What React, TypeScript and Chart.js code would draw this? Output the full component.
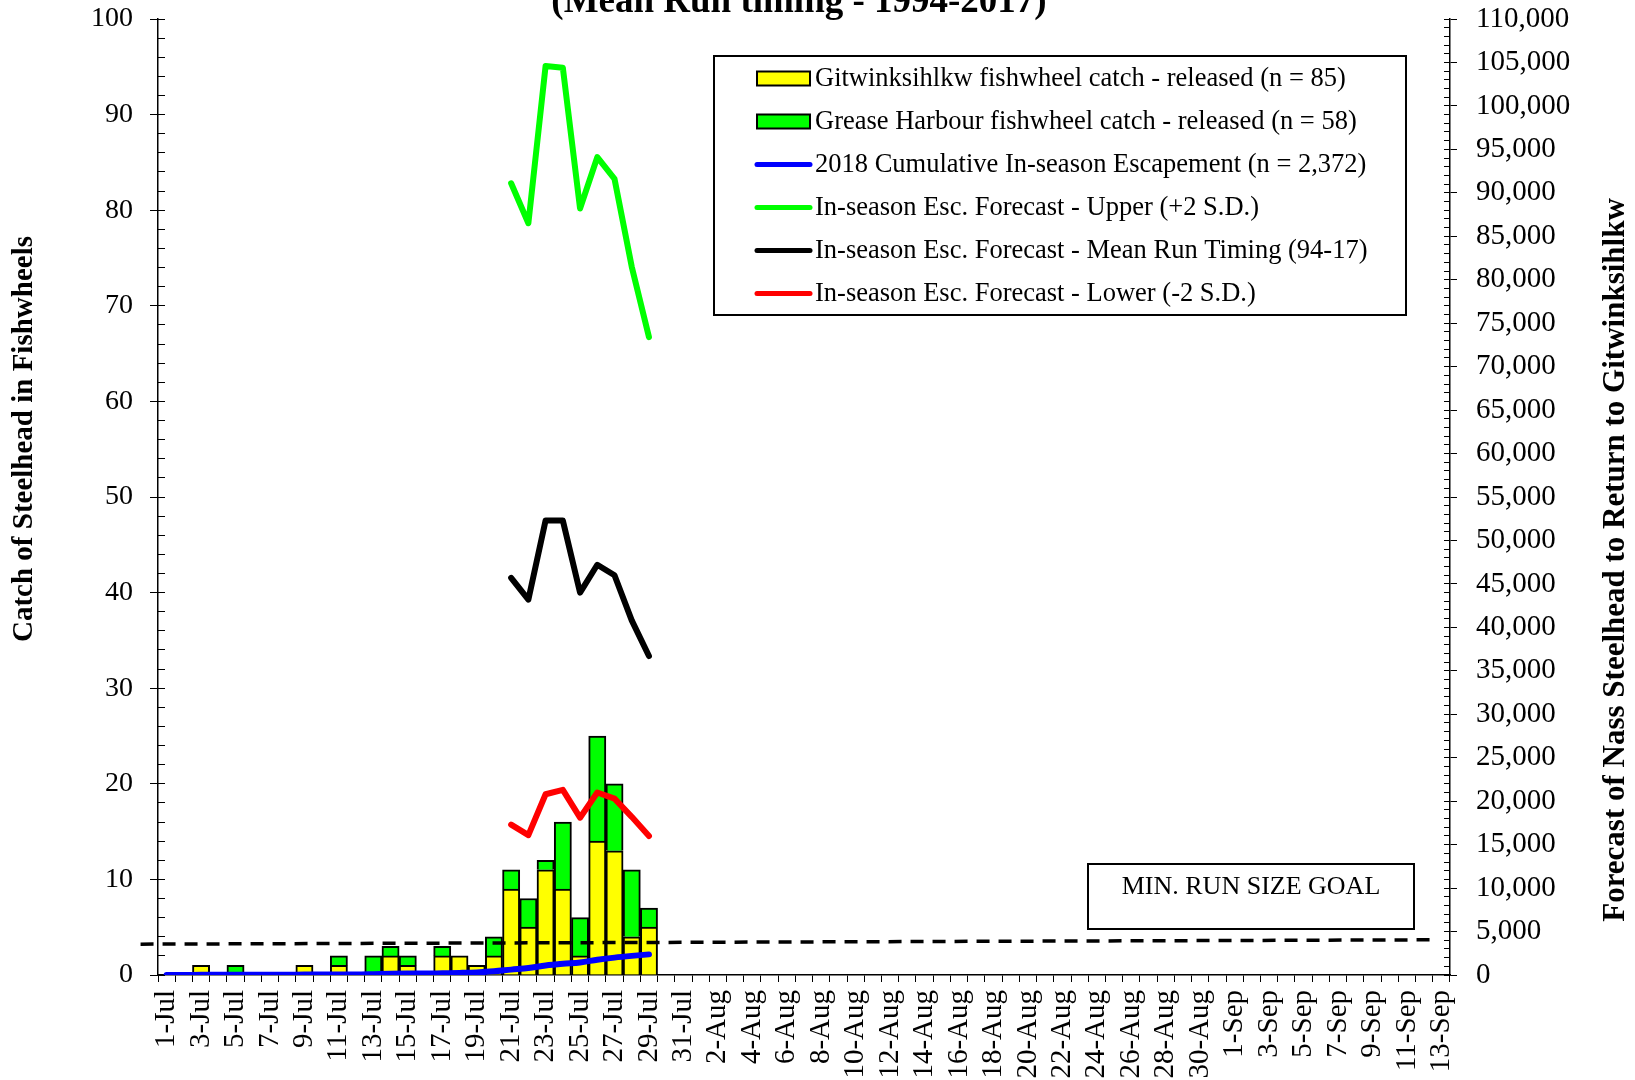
import { useEffect, useRef } from 'react';
import { Chart, registerables } from 'chart.js';

Chart.register(...registerables);

const FONT = '"Liberation Serif", "Times New Roman", serif';

const days = [
  '1-Jul', '2-Jul', '3-Jul', '4-Jul', '5-Jul', '6-Jul', '7-Jul', '8-Jul', '9-Jul', '10-Jul',
  '11-Jul', '12-Jul', '13-Jul', '14-Jul', '15-Jul', '16-Jul', '17-Jul', '18-Jul', '19-Jul', '20-Jul',
  '21-Jul', '22-Jul', '23-Jul', '24-Jul', '25-Jul', '26-Jul', '27-Jul', '28-Jul', '29-Jul', '30-Jul', '31-Jul',
  '1-Aug', '2-Aug', '3-Aug', '4-Aug', '5-Aug', '6-Aug', '7-Aug', '8-Aug', '9-Aug', '10-Aug',
  '11-Aug', '12-Aug', '13-Aug', '14-Aug', '15-Aug', '16-Aug', '17-Aug', '18-Aug', '19-Aug', '20-Aug',
  '21-Aug', '22-Aug', '23-Aug', '24-Aug', '25-Aug', '26-Aug', '27-Aug', '28-Aug', '29-Aug', '30-Aug', '31-Aug',
  '1-Sep', '2-Sep', '3-Sep', '4-Sep', '5-Sep', '6-Sep', '7-Sep', '8-Sep', '9-Sep', '10-Sep',
  '11-Sep', '12-Sep', '13-Sep',
];

// Daily fishwheel catches (1-Jul .. 29-Jul); null = no catch
const gitwinksihlkwCatch = [
  null, null, 1, null, null, null, null, null, 1, null,
  1, null, null, 2, 1, null, 2, 2, 1, 2,
  9, 5, 11, 9, 2, 14, 13, 4, 5,
];
const greaseHarbourCatch = [
  null, null, null, null, 1, null, null, null, null, null,
  1, null, 2, 1, 1, null, 1, null, null, 2,
  2, 3, 1, 7, 4, 11, 7, 7, 2,
];

// Cumulative in-season escapement (right axis)
const cumulativeEscapement = [
  0, 0, 15, 15, 30, 30, 30, 30, 45, 45,
  70, 70, 100, 140, 160, 160, 200, 240, 300, 420,
  620, 800, 1100, 1300, 1450, 1750, 2000, 2200, 2372,
];

// Forecasts (21-Jul .. 29-Jul), right axis
const forecastUpper = [
  null, null, null, null, null, null, null, null, null, null,
  null, null, null, null, null, null, null, null, null, null,
  91100, 86500, 104600, 104400, 88200, 94100, 91600, 81500, 73400,
];
const forecastMean = [
  null, null, null, null, null, null, null, null, null, null,
  null, null, null, null, null, null, null, null, null, null,
  45700, 43200, 52300, 52300, 44000, 47200, 46000, 40800, 36700,
];
const forecastLower = [
  null, null, null, null, null, null, null, null, null, null,
  null, null, null, null, null, null, null, null, null, null,
  17300, 16100, 20800, 21300, 18100, 21000, 20300, 18200, 16000,
];

// Minimum run size goal line (start / end of season)
const minRunGoal = [
  { x: -0.0135, y: 3550 },
  { x: 0.9885, y: 4050 },
];

const leftTicks = { min: 0, max: 100, major: 10, minor: 2 };
const rightTicks = { min: 0, max: 110000, major: 5000, minor: 1000 };

const chartTitle = '(Mean Run timing - 1994-2017)';
const leftTitle = 'Catch of Steelhead in Fishwheels';
const rightTitle = 'Forecast of Nass Steelhead to Return to Gitwinksihlkw';
const goalText = 'MIN. RUN SIZE GOAL';

const legendEntries = [
  { label: 'Gitwinksihlkw fishwheel catch - released (n = 85)', kind: 'box', color: '#FFFF00' },
  { label: 'Grease Harbour fishwheel catch - released (n = 58)', kind: 'box', color: '#00FF00' },
  { label: '2018 Cumulative In-season Escapement (n = 2,372)', kind: 'line', color: '#0000FF' },
  { label: 'In-season Esc. Forecast - Upper (+2 S.D.)', kind: 'line', color: '#00FF00' },
  { label: 'In-season Esc. Forecast - Mean Run Timing (94-17)', kind: 'line', color: '#000000' },
  { label: 'In-season Esc. Forecast - Lower (-2 S.D.)', kind: 'line', color: '#FF0000' },
];

const decorPlugin = {
  id: 'decor',
  afterDraw(chart: any) {
    const ctx = chart.ctx as CanvasRenderingContext2D;
    ctx.save();
    ctx.fillStyle = '#000';

    // Title (partly cut off at top)
    ctx.font = `bold 37px ${FONT}`;
    ctx.textAlign = 'center';
    ctx.textBaseline = 'alphabetic';
    ctx.fillText(chartTitle, 799, 12);

    // Left axis title
    ctx.save();
    ctx.translate(25, 439);
    ctx.rotate(-Math.PI / 2);
    ctx.font = `bold 29px ${FONT}`;
    ctx.textAlign = 'center';
    ctx.textBaseline = 'middle';
    ctx.fillText(leftTitle, 0, 0);
    ctx.restore();

    // Right axis title
    ctx.save();
    ctx.translate(1616, 560);
    ctx.rotate(-Math.PI / 2);
    ctx.font = `bold 31px ${FONT}`;
    ctx.textAlign = 'center';
    ctx.textBaseline = 'middle';
    ctx.fillText(rightTitle, 0, 0);
    ctx.restore();

    // Legend box
    const lx = 714, ly = 56, lw = 692, lh = 259;
    ctx.fillStyle = '#fff';
    ctx.fillRect(lx, ly, lw, lh);
    ctx.strokeStyle = '#000';
    ctx.lineWidth = 2;
    ctx.strokeRect(lx, ly, lw, lh);
    ctx.font = `26.5px ${FONT}`;
    ctx.textAlign = 'left';
    ctx.textBaseline = 'middle';
    legendEntries.forEach((e, k) => {
      const cy = 78.5 + k * 43;
      if (e.kind === 'box') {
        ctx.fillStyle = e.color;
        ctx.fillRect(757, cy - 7, 53, 14);
        ctx.strokeStyle = '#000';
        ctx.lineWidth = 2;
        ctx.strokeRect(757, cy - 7, 53, 14);
      } else {
        ctx.strokeStyle = e.color;
        ctx.lineWidth = 5;
        ctx.lineCap = 'round';
        ctx.beginPath();
        ctx.moveTo(757, cy);
        ctx.lineTo(810, cy);
        ctx.stroke();
      }
      ctx.fillStyle = '#000';
      ctx.fillText(e.label, 815, cy + 1);
    });

    // Min run size goal box
    ctx.fillStyle = '#fff';
    ctx.fillRect(1088, 864, 326, 65);
    ctx.strokeStyle = '#000';
    ctx.lineWidth = 2;
    ctx.strokeRect(1088, 864, 326, 65);
    ctx.fillStyle = '#000';
    ctx.font = `26px ${FONT}`;
    ctx.textAlign = 'center';
    ctx.textBaseline = 'alphabetic';
    ctx.fillText(goalText, 1251, 894);

    ctx.restore();
  },
};

const lineStyle = {
  type: 'line' as const,
  yAxisID: 'y2',
  borderWidth: 6,
  pointRadius: 0,
  pointHoverRadius: 0,
  borderCapStyle: 'round' as const,
  borderJoinStyle: 'round' as const,
  spanGaps: false,
  order: 0,
};

const barStyle = {
  type: 'bar' as const,
  borderColor: '#000',
  borderWidth: 2,
  barPercentage: 1,
  categoryPercentage: 1,
  grouped: false,
  yAxisID: 'y',
  order: 1,
};

const noPadding = (s: any) => {
  s.paddingTop = 0;
  s.paddingBottom = 0;
};

export default function App() {
  const ref = useRef<HTMLCanvasElement | null>(null);

  useEffect(() => {
    if (!ref.current) return;
    const chart = new Chart(ref.current, {
      type: 'bar',
      data: {
        labels: days,
        datasets: [
          {
            ...lineStyle,
            label: 'MIN. RUN SIZE GOAL',
            data: minRunGoal as any,
            xAxisID: 'xd',
            borderColor: '#000',
            borderWidth: 3.5,
            borderDash: [13, 9],
            borderCapStyle: 'butt',
            clip: false as any,
          } as any,
          {
            ...lineStyle,
            label: legendEntries[2].label,
            data: cumulativeEscapement,
            borderColor: '#0000FF',
            cubicInterpolationMode: 'monotone',
          } as any,
          { ...lineStyle, label: legendEntries[3].label, data: forecastUpper, borderColor: '#00FF00' } as any,
          { ...lineStyle, label: legendEntries[4].label, data: forecastMean, borderColor: '#000000' } as any,
          { ...lineStyle, label: legendEntries[5].label, data: forecastLower, borderColor: '#FF0000' } as any,
          { ...barStyle, label: legendEntries[0].label, data: gitwinksihlkwCatch, backgroundColor: '#FFFF00' } as any,
          { ...barStyle, label: legendEntries[1].label, data: greaseHarbourCatch, backgroundColor: '#00FF00' } as any,
        ],
      },
      plugins: [decorPlugin],
      options: {
        responsive: false,
        animation: false,
        devicePixelRatio: 1,
        layout: { padding: { top: 19, left: 0, right: 0, bottom: 0 } },
        datasets: { bar: { barPercentage: 1, categoryPercentage: 1 } },
        plugins: {
          legend: { display: false },
          tooltip: { enabled: false },
          title: { display: false },
        },
        scales: {
          x: {
            type: 'category',
            stacked: true,
            offset: true,
            grid: {
              offset: true,
              drawOnChartArea: false,
              drawTicks: true,
              tickLength: 7,
              tickColor: '#000',
              tickWidth: 1,
            },
            border: { color: '#000', width: 1.5 },
            ticks: {
              autoSkip: false,
              maxRotation: 90,
              minRotation: 90,
              padding: 8,
              color: '#000',
              font: { family: FONT, size: 29 },
              callback: (_v: any, i: number) => (i % 2 === 0 ? days[i] : ''),
            },
            afterFit: (s: any) => {
              s.height = 105;
            },
          },
          xd: {
            type: 'linear',
            display: false,
            offset: false,
            grid: { offset: false },
            min: 0,
            max: 1,
          },
          y: {
            type: 'linear',
            position: 'left',
            stacked: true,
            weight: 0,
            min: leftTicks.min,
            max: leftTicks.max,
            grid: { drawOnChartArea: false, drawTicks: true, tickLength: 8, tickColor: '#000' },
            border: { color: '#000', width: 1.5 },
            ticks: { stepSize: leftTicks.major, padding: 17, color: '#000', font: { family: FONT, size: 28 } },
            afterFit: (s: any) => {
              s.width = 158;
              noPadding(s);
            },
          },
          yMinor: {
            type: 'linear',
            position: 'left',
            weight: -1,
            min: leftTicks.min,
            max: leftTicks.max,
            grid: { drawOnChartArea: false, drawTicks: true, tickLength: -7, tickColor: '#000' },
            border: { display: false },
            ticks: { stepSize: leftTicks.minor, display: false },
            afterFit: (s: any) => {
              s.width = 0;
              noPadding(s);
            },
          },
          y2: {
            type: 'linear',
            position: 'right',
            weight: 0,
            min: rightTicks.min,
            max: rightTicks.max,
            grid: { drawOnChartArea: false, drawTicks: true, tickLength: 7, tickColor: '#000' },
            border: { color: '#000', width: 1.5 },
            ticks: {
              stepSize: rightTicks.major,
              padding: 19,
              color: '#000',
              font: { family: FONT, size: 29 },
              callback: (v: any) => Number(v).toLocaleString('en-US'),
            },
            afterFit: (s: any) => {
              s.width = 185;
              noPadding(s);
            },
          },
          y2Minor: {
            type: 'linear',
            position: 'right',
            weight: -1,
            min: rightTicks.min,
            max: rightTicks.max,
            grid: { drawOnChartArea: false, drawTicks: true, tickLength: -6, tickColor: '#000' },
            border: { display: false },
            ticks: { stepSize: rightTicks.minor, display: false },
            afterFit: (s: any) => {
              s.width = 0;
              noPadding(s);
            },
          },
        },
      } as any,
    });
    return () => chart.destroy();
  }, []);

  return (
    <div style={{ position: 'absolute', left: 0, top: 0, width: 1635, height: 1080, background: '#fff' }}>
      <canvas ref={ref} width={1635} height={1080} style={{ display: 'block' }} />
    </div>
  );
}
